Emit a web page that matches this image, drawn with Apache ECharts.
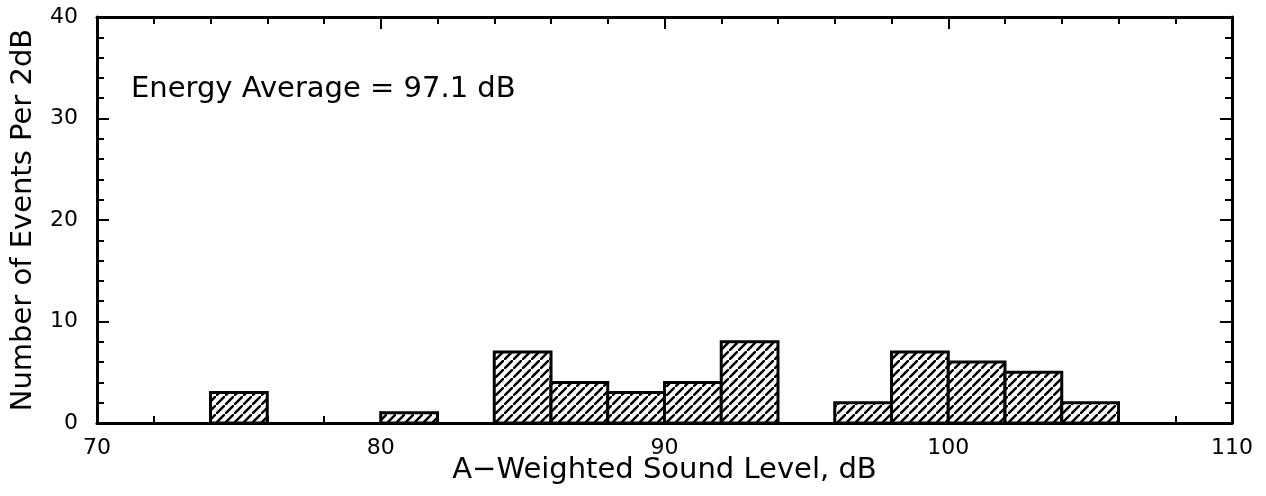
<!DOCTYPE html>
<html lang="en">
<head>
    <meta charset="UTF-8">
    <title>Sound level histogram</title>
    <script type="text/javascript" src="https://cdn.jsdelivr.net/npm/echarts@6/dist/echarts.min.js"></script>
</head>
<body style="margin:0;background:#fff;">
<div id="main" style="width: 1266px;height:496px;"></div>
<script>
    // bin edges (dB) and number of events in each 2 dB bin
    var binStart = [74, 80, 84, 86, 88, 90, 92, 96, 98, 100, 102, 104];
    var binEnd   = [76, 82, 86, 88, 90, 92, 94, 98, 100, 102, 104, 106];
    var counts   = [3, 1, 7, 4, 3, 4, 8, 2, 7, 6, 5, 2];
    var xTicks = [70, 80, 90, 100, 110];
    var yTicks = [0, 10, 20, 30, 40];
    var note = 'Energy Average = 97.1 dB';

    var font = 'DejaVu Sans';

    // hatch pattern for the bars
    var P = 9;
    var hatch = document.createElement('canvas');
    hatch.width = P;
    hatch.height = P;
    var ctx = hatch.getContext('2d');
    ctx.fillStyle = '#fff';
    ctx.fillRect(0, 0, P, P);
    ctx.strokeStyle = '#000';
    ctx.lineWidth = 2.5;
    ctx.beginPath();
    ctx.moveTo(-2, P + 2); ctx.lineTo(P + 2, -2);
    ctx.moveTo(-P - 2, 2); ctx.lineTo(2, -P - 2);
    ctx.moveTo(P - 2, 2 * P + 2); ctx.lineTo(2 * P + 2, P - 2);
    ctx.stroke();

    var data = [];
    for (var i = 0; i < counts.length; i++) {
        data.push([binStart[i], binEnd[i], counts[i]]);
    }

    function frameAxis(show, extra) {
        var a = {
            type: 'value',
            axisLine: {show: true, onZero: false, lineStyle: {color: '#000', width: 3}},
            axisTick: {show: true, inside: true, length: 12, lineStyle: {color: '#000', width: 2}},
            minorTick: {show: true, splitNumber: 5, length: 7, lineStyle: {color: '#000', width: 2}},
            splitLine: {show: false},
            axisLabel: {show: show, color: '#000', fontFamily: font, fontSize: 22}
        };
        for (var k in extra) a[k] = extra[k];
        return a;
    }

    var option = {
        animation: false,
        grid: {left: 97, right: 34, top: 17, bottom: 73},
        xAxis: [
            frameAxis(true, {
                min: xTicks[0], max: xTicks[xTicks.length - 1], interval: 10,
                position: 'bottom',
                name: 'A\u2212Weighted Sound Level, dB',
                nameLocation: 'middle', nameGap: 33, nameMoveOverlap: false,
                nameTextStyle: {color: '#000', fontFamily: font, fontSize: 29}
            }),
            frameAxis(false, {
                min: xTicks[0], max: xTicks[xTicks.length - 1], interval: 10,
                position: 'top'
            })
        ],
        yAxis: [
            frameAxis(true, {
                min: yTicks[0], max: yTicks[yTicks.length - 1], interval: 10,
                position: 'left',
                name: 'Number of Events Per 2dB',
                nameLocation: 'middle', nameGap: 59, nameMoveOverlap: false,
                nameTextStyle: {color: '#000', fontFamily: font, fontSize: 29}
            }),
            frameAxis(false, {
                min: yTicks[0], max: yTicks[yTicks.length - 1], interval: 10,
                position: 'right'
            })
        ],
        graphic: [{
            type: 'text',
            left: 131,
            top: 75,
            style: {text: note, fill: '#000', font: '29px "' + font + '"'}
        }],
        series: [{
            type: 'custom',
            data: data,
            renderItem: function (params, api) {
                var p0 = api.coord([api.value(0), api.value(2)]);
                var p1 = api.coord([api.value(1), 0]);
                return {
                    type: 'rect',
                    shape: {x: p0[0], y: p0[1], width: p1[0] - p0[0], height: p1[1] - p0[1]},
                    style: {
                        fill: {image: hatch, repeat: 'repeat'},
                        stroke: '#000',
                        lineWidth: 3
                    }
                };
            }
        }]
    };
    option.xAxis[0].axisLabel.margin = 14;
    option.yAxis[0].axisLabel.margin = 19;

    var myChart = echarts.init(document.getElementById('main'));
    myChart.setOption(option);
</script>
</body>
</html>
